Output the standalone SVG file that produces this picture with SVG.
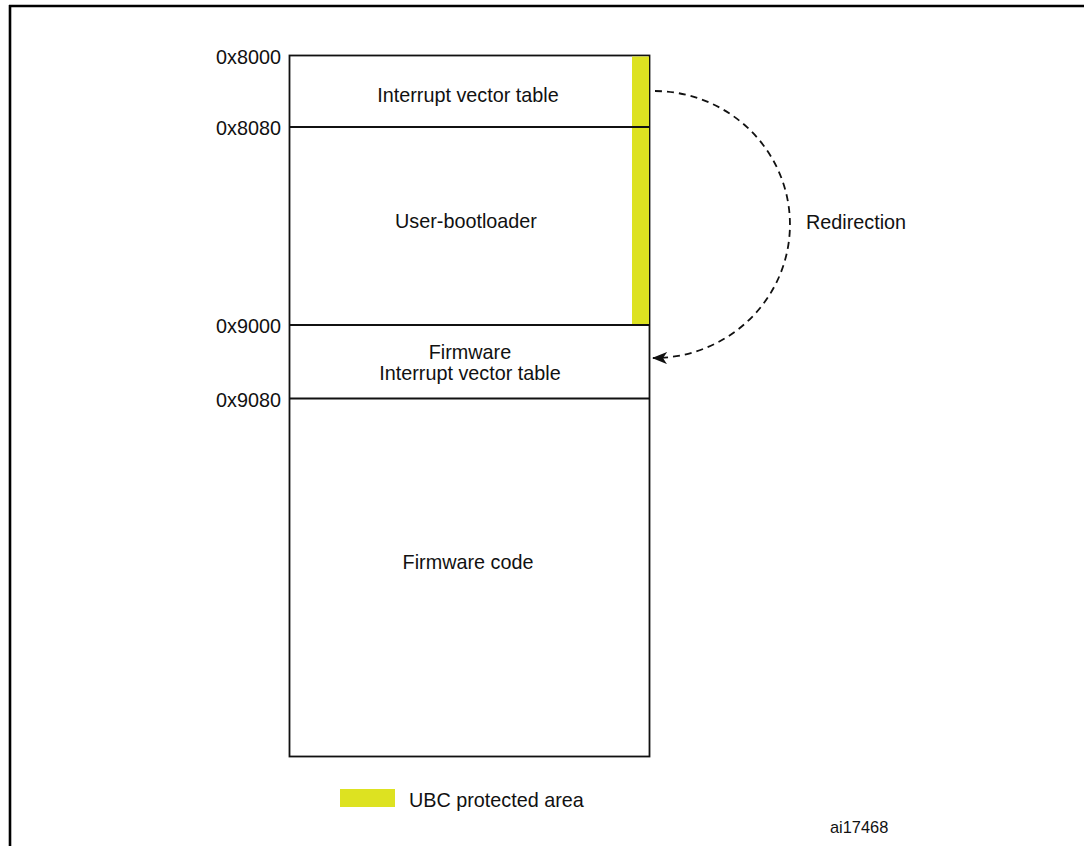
<svg xmlns="http://www.w3.org/2000/svg" width="1084" height="846" viewBox="0 0 1084 846">
<style>
.t{font-family:"Liberation Sans",Arial,Helvetica,sans-serif;font-size:19.8px;fill:#111}
.c{text-anchor:middle}
.r{text-anchor:end}
.box{fill:#fff;stroke:#111;stroke-width:1.8}
.div{stroke:#111;stroke-width:1.8}
.ubc{fill:#dde221}
.conn{fill:none;stroke:#111;stroke-width:1.8;stroke-dasharray:7,5}
</style>
<defs>
<marker id="ah" markerWidth="15" markerHeight="12" refX="14" refY="6" orient="auto" markerUnits="userSpaceOnUse">
<path d="M0,0 L15,6 L0,12 L4,6 Z" fill="#111"/>
</marker>
</defs>
<rect width="1084" height="846" fill="#fff"/>
<g id="frame">
<line x1="9" y1="6" x2="1084" y2="6" stroke="#000" stroke-width="2.6"/>
<line x1="10" y1="5" x2="10" y2="846" stroke="#000" stroke-width="2.6"/>
</g>
<g id="memory">
<rect class="box" x="289.5" y="55.5" width="360" height="701"/>
</g>
<g id="ubc-bar">
<rect class="ubc" x="632" y="56.5" width="17" height="268.5"/>
</g>
<g id="ivt">
<text class="t c" x="468" y="102">Interrupt vector table</text>
<text class="t r" x="281" y="64">0x8000</text>
</g>
<g id="bootloader">
<line class="div" x1="289.5" y1="127" x2="649.5" y2="127"/>
<text class="t c" x="466" y="228">User-bootloader</text>
<text class="t r" x="281" y="135">0x8080</text>
</g>
<g id="fw-ivt">
<line class="div" x1="289.5" y1="325" x2="649.5" y2="325"/>
<text class="t c" x="470" y="359">Firmware</text>
<text class="t c" x="470" y="380">Interrupt vector table</text>
<text class="t r" x="281" y="333">0x9000</text>
</g>
<g id="fw-code">
<line class="div" x1="289.5" y1="398.5" x2="649.5" y2="398.5"/>
<text class="t c" x="468" y="569">Firmware code</text>
<text class="t r" x="281" y="406.5">0x9080</text>
</g>
<g id="connectors">
<path class="conn" d="M655,91 A136,133.5 0 0 1 653,358" marker-end="url(#ah)"/>
<text class="t" x="806" y="229">Redirection</text>
</g>
<g id="legend">
<rect class="ubc" x="340" y="789" width="55" height="18"/>
<text class="t" x="409" y="807">UBC protected area</text>
</g>
<g id="ref">
<text class="t" x="830" y="833" style="font-size:16.4px">ai17468</text>
</g>
</svg>
